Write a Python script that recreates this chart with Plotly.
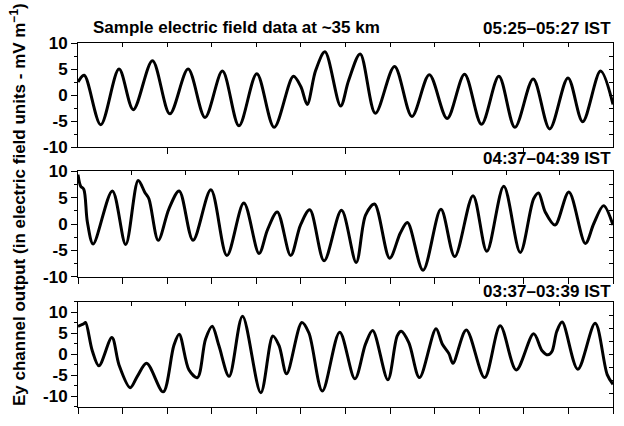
import plotly.graph_objects as go

# Sample times (s) and Ey channel output values for the three 2-minute windows
t_0525 = [0, 1.4, 5.1, 9.2, 12.4, 16.7, 20.6, 24.7, 28.5, 32.4, 36.1, 40.1, 44.0, 48.3, 50.0,
          51.4, 53.3, 55.4, 58.9, 60.7, 63.3, 66.7, 71.0, 74.9, 78.8, 82.8, 86.7, 90.5, 94.4,
          98.0, 102.1, 105.8, 109.9, 113.2, 117.2, 120]
ey_0525 = [2.5, 3.8, -5.7, 5.0, -2.8, 6.6, -3.6, 5.0, -4.3, 4.6, -5.9, 4.1, -6.2, 3.6, 1.6,
           -1.8, 4.7, 8.3, -2.1, 2.8, 7.9, -3.5, 5.5, -4.1, 3.9, -4.5, 4.0, -5.6, 3.6,
           -6.2, 3.1, -6.5, 3.3, -5.1, 4.6, -1.8]

t_0437 = [0, 0.6, 1.3, 2.1, 3.4, 7.7, 10.7, 13.5, 15.0, 15.9, 18.0, 20.4, 22.7, 25.8, 29.8,
          33.4, 37.2, 40.6, 42.5, 44.7, 47.7, 49.9, 52.0, 55.2, 59.1, 62.4, 64.5, 66.5, 69.9,
          72.3, 73.9, 77.4, 81.4, 84.5, 88.6, 91.7, 95.5, 99.2, 102.2, 103.3, 104.8, 107.0,
          110.1, 113.8, 115.7, 117.9, 120]
ey_0437 = [9.4, 7.2, 6.6, 0.4, -3.8, 6.3, -3.9, 8.3, 6.0, 4.8, -3.1, 2.9, 6.3, -3.1, 6.5,
           -6.0, 4.0, -5.6, -1.1, 2.3, -6.0, -0.2, 2.7, -7.0, 2.6, -7.3, 1.7, 3.8, -6.5,
           -1.7, 0.3, -8.8, 2.8, -6.2, 5.4, -5.2, 7.2, -5.4, 4.8, 5.9, 2.3, -0.2,
           6.1, -3.7, 0.1, 3.5, -0.2]

t_0337 = [0, 1.3, 1.7, 3.2, 4.7, 7.6, 9.2, 11.7, 13.3, 15.4, 19.1, 21.5, 22.7, 24.9, 26.8,
          28.6, 30.1, 31.6, 33.9, 36.9, 41.0, 43.7, 45.1, 46.8, 50.2, 51.8, 54.8, 58.7, 62.1,
          64.5, 66.1, 69.5, 71.6, 72.5, 74.2, 76.6, 80.3, 81.7, 83.2, 84.1, 87.1, 91.2, 94.7,
          98.3, 102.2, 104.1, 105.4, 106.3, 107.4, 108.6, 112.1, 116.0, 118.7, 120]
ey_0337 = [6.7, 7.3, 7.6, 0.9, -2.7, 4.0, -2.5, -7.9, -5.2, -2.1, -8.9, 2.1, 4.8, -3.7, -5.5,
           3.6, 6.7, 2.1, -5.2, 9.1, -9.1, 4.4, 2.1, -4.6, 7.6, 5.1, -8.7, 5.3, -5.8,
           2.5, 5.7, -6.0, 4.4, 5.5, 2.8, -5.5, 6.1, 2.5, 0.2, -2.1, 5.8, -5.5, 6.8,
           -3.7, 4.9, 0.9, -0.1, 0.7, 5.5, 7.7, -3.5, 7.4, -4.8, -7.1]

y_tick_vals = [-10, -5, 0, 5, 10]
y_tick_text = ["-10", "-5", "0", "5", "10"]

window_labels = ["05:25\u201305:27 IST", "04:37\u201304:39 IST", "03:37\u201303:39 IST"]
chart_title = "Sample electric field data at ~35 km"
y_title = "Ey channel output (in electric field units - mV m<sup>\u22121</sup>)"

FONT = "Liberation Sans, Arial, sans-serif"
BOLD = dict(family=FONT, size=17, color="black", weight="bold")

series = [(t_0525, ey_0525), (t_0437, ey_0437), (t_0337, ey_0337)]
y_ranges = [[-10, 10], [-10, 10], [-12.5, 12.5]]
domains = [[0.7139, 1.0], [0.3583, 0.6471], [0.0, 0.2888]]
bottom_ticks = [dict(tickmode="array", tickvals=[20, 60, 100]),
                dict(tickmode="linear", tick0=0, dtick=10),
                dict(tickmode="linear", tick0=0, dtick=10)]
top_dticks = [10, 12, 12]

fig = go.Figure()
layout = dict()

for i, (t, v) in enumerate(series):
    n = i + 1
    xa, ya = f"x{n}" if n > 1 else "x", f"y{n}" if n > 1 else "y"
    xo, yo = f"x{n + 3}", f"y{n + 3}"
    fig.add_trace(go.Scatter(x=t, y=v, mode="lines", xaxis=xa, yaxis=ya,
                             line=dict(color="black", width=3, shape="spline", smoothing=0.9),
                             showlegend=False, hoverinfo="skip"))
    # companion axes carrying the inward top and right ticks
    fig.add_trace(go.Scatter(x=[], y=[], xaxis=xo, yaxis=yo, showlegend=False, hoverinfo="skip"))

    layout[f"xaxis{n if n > 1 else ''}"] = dict(
        domain=[0, 1], range=[0, 120], anchor=ya, showticklabels=False,
        ticks="outside", ticklen=6, tickwidth=1, tickcolor="black",
        showline=True, linecolor="black", linewidth=1, showgrid=False, zeroline=False,
        **bottom_ticks[i])
    layout[f"yaxis{n if n > 1 else ''}"] = dict(
        domain=domains[i], range=y_ranges[i], anchor=xa,
        tickmode="array", tickvals=y_tick_vals, ticktext=y_tick_text,
        ticks="outside", ticklen=6, tickwidth=1, tickcolor="black", tickfont=BOLD,
        minor=dict(dtick=2.5, tick0=0, ticks="outside", ticklen=3, tickcolor="black", showgrid=False),
        showline=True, linecolor="black", linewidth=1, showgrid=False, zeroline=False)
    layout[f"xaxis{n + 3}"] = dict(
        overlaying=xa, side="top", anchor=yo, range=[0, 120], tickmode="linear", tick0=0,
        dtick=top_dticks[i], ticks="inside", ticklen=4, tickcolor="black", showticklabels=False,
        showline=True, linecolor="black", linewidth=1, showgrid=False, zeroline=False)
    layout[f"yaxis{n + 3}"] = dict(
        overlaying=ya, side="right", anchor=xo, range=[-10, 10], tickmode="linear", tick0=0,
        dtick=2.5, ticks="inside", ticklen=4, tickcolor="black", showticklabels=False,
        showline=True, linecolor="black", linewidth=1, showgrid=False, zeroline=False)

annotations = [
    dict(text=chart_title, x=0.297, y=1.043, xref="paper", yref="paper",
         xanchor="center", yanchor="middle", showarrow=False, font=BOLD),
    dict(text=y_title, x=-0.112, y=0.555, xref="paper", yref="paper", textangle=-90,
         xanchor="center", yanchor="middle", showarrow=False, font=BOLD),
]
for label, ypos in zip(window_labels, [1.040, 0.682, 0.318]):
    annotations.append(dict(text=label, x=1.0, y=ypos, xref="paper", yref="paper",
                            xanchor="right", yanchor="middle", showarrow=False, font=BOLD))

fig.update_layout(
    width=624, height=426, margin=dict(l=78, r=11, t=43, b=9),
    paper_bgcolor="white", plot_bgcolor="white",
    font=dict(family=FONT, color="black"),
    annotations=annotations, **layout)

fig.write_html("out.html")
